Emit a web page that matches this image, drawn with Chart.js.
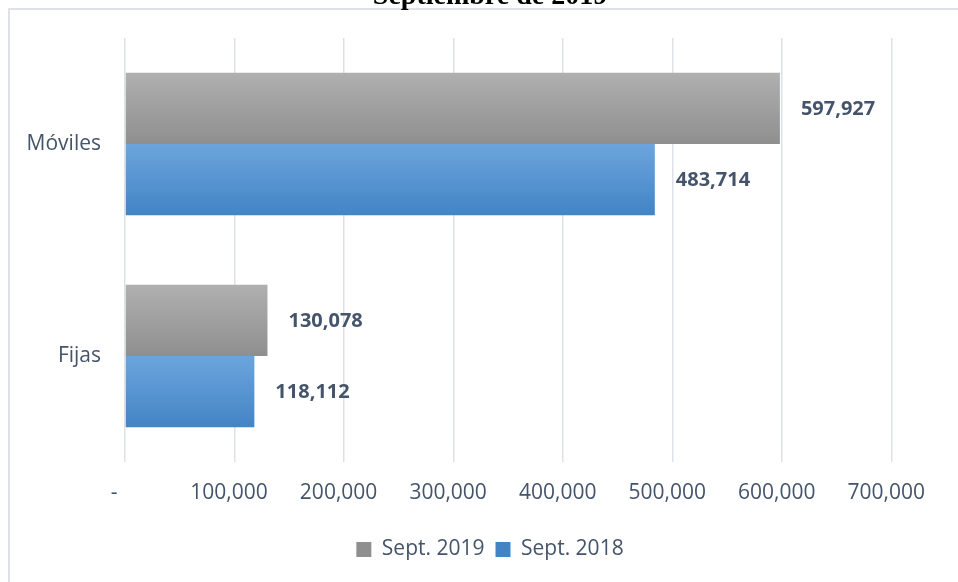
<!DOCTYPE html>
<html lang="es">
<head>
<meta charset="utf-8">
<title>Líneas telefónicas</title>
<script src="https://cdn.jsdelivr.net/npm/chart.js@4.4.1/dist/chart.umd.min.js"></script>
<style>
    html, body { margin: 0; padding: 0; background: #fff; overflow: hidden; }
    body { width: 958px; height: 582px; position: relative; }
    #marco {
        position: absolute; left: 8px; top: 8px;
        width: 1000px; height: 1000px;
        border: 2px solid #DEE2E8;
    }
    #grafico { position: absolute; left: 0; top: -20px; }
</style>
</head>
<body>
<div id="marco"></div>
<canvas id="grafico" width="958" height="602"></canvas>

<script>
// ===== Datos =====
const categorias = ['Móviles', 'Fijas'];
const series = ['Sept. 2019', 'Sept. 2018'];
const valores2019 = [597927, 130078];
const valores2018 = [483714, 118112];
const ticksX = [0, 100000, 200000, 300000, 400000, 500000, 600000, 700000];

// ===== Estilo =====
const COLOR_TEXTO = '#44546A';
const FUENTE = "'Open Sans', sans-serif";
const GRUPO = 0.673; // fracción de la categoría ocupada por las dos barras

const grises = ['#B0B0B0', '#8F8F8F', '#A0A0A0'];
const azules = ['#6CA5DD', '#4384C5', '#5893D0'];

// gradiente vertical por barra (la serie 0 va arriba, la 1 abajo)
function degradado(ctx, colores, lado) {
    const chart = ctx.chart;
    if (ctx.type !== 'data' || !chart.chartArea) return colores[2]; // leyenda
    const y = chart.scales.y;
    const centro = y.getPixelForValue(ctx.dataIndex);
    const alto = chart.chartArea.height / categorias.length * GRUPO / 2;
    const arriba = lado === 0 ? centro - alto : centro;
    const g = chart.ctx.createLinearGradient(0, arriba, 0, arriba + alto);
    g.addColorStop(0, colores[0]);
    g.addColorStop(1, colores[1]);
    return g;
}

// ===== Etiquetas de valor =====
const etiquetasValor = {
    id: 'etiquetasValor',
    afterDatasetsDraw(chart) {
        const ctx = chart.ctx;
        ctx.save();
        ctx.font = "bold 20px " + FUENTE;
        ctx.fillStyle = COLOR_TEXTO;
        ctx.textAlign = 'left';
        ctx.textBaseline = 'middle';
        chart.data.datasets.forEach((ds, i) => {
            chart.getDatasetMeta(i).data.forEach((barra, j) => {
                ctx.fillText(ds.data[j].toLocaleString('en-US'), barra.x + 21, barra.y + 1);
            });
        });
        ctx.restore();
    }
};

// ===== Gráfico =====
new Chart(document.getElementById('grafico'), {
    type: 'bar',
    data: {
        labels: categorias,
        datasets: [
            {
                label: series[0],
                data: valores2019,
                backgroundColor: ctx => degradado(ctx, grises, 0),
                borderWidth: 0
            },
            {
                label: series[1],
                data: valores2018,
                backgroundColor: ctx => degradado(ctx, azules, 1),
                borderWidth: 0
            }
        ]
    },
    options: {
        indexAxis: 'y',
        responsive: false,
        animation: false,
        categoryPercentage: GRUPO,
        barPercentage: 1,
        layout: { padding: { left: 22, right: 0, top: 0, bottom: 12 } },
        plugins: {
            title: {
                display: true,
                text: 'Septiembre de 2019',
                color: '#000',
                font: { family: "'Liberation Serif', serif", size: 28, weight: 'bold' },
                padding: { top: 0, bottom: 24.4 }
            },
            legend: {
                position: 'bottom',
                labels: {
                    boxWidth: 15,
                    boxHeight: 15,
                    padding: 11,
                    color: COLOR_TEXTO,
                    font: { family: FUENTE, size: 21 }
                }
            },
            tooltip: { enabled: false }
        },
        scales: {
            x: {
                min: 0,
                max: 700000,
                afterBuildTicks: s => { s.ticks = ticksX.map(v => ({ value: v })); },
                afterFit: s => { s.height = 66; s.paddingRight = 66.3; },
                grid: { color: '#DDE1E7', lineWidth: 1.5, drawTicks: false },
                border: { display: false },
                ticks: {
                    padding: 18,
                    color: COLOR_TEXTO,
                    font: { family: FUENTE, size: 21 },
                    callback: v => v === 0 ? '-    ' : v.toLocaleString('en-US') + '  '
                }
            },
            y: {
                afterFit: s => { s.width = 103; },
                grid: { display: false, drawTicks: false },
                border: { display: false },
                ticks: {
                    padding: 24,
                    color: COLOR_TEXTO,
                    font: { family: FUENTE, size: 21 }
                }
            }
        }
    },
    plugins: [etiquetasValor]
});
</script>
</body>
</html>
